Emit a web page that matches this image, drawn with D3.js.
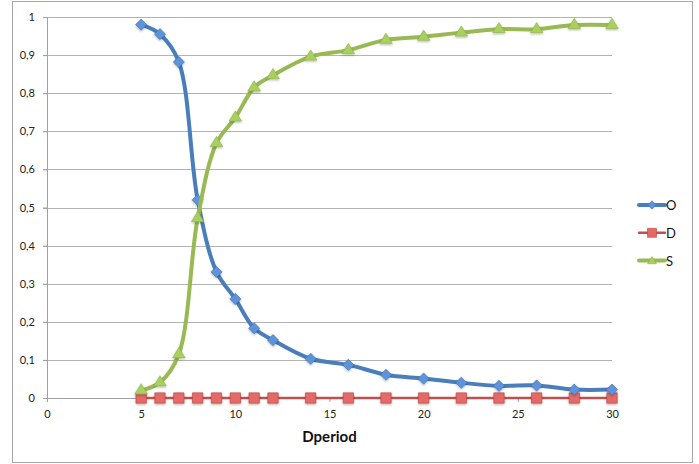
<!DOCTYPE html>
<html>
<head>
<meta charset="utf-8">
<script src="https://cdn.jsdelivr.net/npm/d3@7"></script>
<style>
  body { margin: 0; background: #fff; }
  text { font-family: Lato, "Open Sans", sans-serif; }
</style>
</head>
<body>
<div id="wrapper"></div>
<script>
// data
const xValues = [5, 6, 7, 8, 9, 10, 11, 12, 14, 16, 18, 20, 22, 24, 26, 28, 30]
const oValues = [0.98, 0.955, 0.882, 0.52, 0.331, 0.26, 0.183, 0.152, 0.103, 0.087, 0.061, 0.051, 0.04, 0.032, 0.033, 0.022, 0.022]
const dValues = [0, 0, 0, 0, 0, 0, 0, 0, 0, 0, 0, 0, 0, 0, 0, 0, 0]
const sValues = [0.02, 0.041, 0.115, 0.472, 0.669, 0.736, 0.815, 0.847, 0.896, 0.913, 0.94, 0.948, 0.959, 0.968, 0.968, 0.979, 0.979]
const seriesNames = ["O", "D", "S"]
const xTicks = [0, 5, 10, 15, 20, 25, 30]
const yTicks = [0, 0.1, 0.2, 0.3, 0.4, 0.5, 0.6, 0.7, 0.8, 0.9, 1]

const series = [
  { name: seriesNames[0], values: oValues, color: "#4a7ebb", fill: "#5d93db", stroke: "#3f70b0", width: 4, marker: "diamond" },
  { name: seriesNames[1], values: dValues, color: "#c0504d", fill: "#e46a67", stroke: "#b9423f", width: 2.5, marker: "square" },
  { name: seriesNames[2], values: sValues, color: "#98b954", fill: "#a9d05c", stroke: "#8fb04a", width: 4, marker: "triangle" },
]

// dimensions
const dimensions = {
  width: 699,
  height: 464,
  margin: { top: 17, right: 87, bottom: 66, left: 47 },
}
dimensions.boundedWidth = 612 - dimensions.margin.left
dimensions.boundedHeight = 398 - dimensions.margin.top

const svg = d3.select("#wrapper")
  .append("svg")
    .attr("width", dimensions.width)
    .attr("height", dimensions.height)

// chart border
svg.append("rect")
    .attr("x", 12.5)
    .attr("y", 1.5)
    .attr("width", 680)
    .attr("height", 461)
    .attr("fill", "#fff")
    .attr("stroke", "#a6a6a6")
    .attr("stroke-width", 1)

const defs = svg.append("defs")
const shadow = defs.append("filter")
    .attr("id", "shadow")
    .attr("x", "-50%").attr("y", "-50%")
    .attr("width", "200%").attr("height", "200%")
shadow.append("feDropShadow")
    .attr("dx", 0).attr("dy", 1.2)
    .attr("stdDeviation", 0.8)
    .attr("flood-color", "#000")
    .attr("flood-opacity", 0.3)

const bounds = svg.append("g")
    .attr("transform", `translate(${dimensions.margin.left}, ${dimensions.margin.top})`)

// scales
const xScale = d3.scaleLinear()
  .domain([0, 30])
  .range([0, dimensions.boundedWidth])

const yScale = d3.scaleLinear()
  .domain([0, 1])
  .range([dimensions.boundedHeight, 0])

const fmt = d => d3.format("")(+d.toFixed(1)).replace(".", ",")

// gridlines
bounds.append("g")
  .selectAll("line")
  .data(yTicks.filter(d => d > 0))
  .join("line")
    .attr("x1", -4)
    .attr("x2", dimensions.boundedWidth)
    .attr("y1", d => Math.round(yScale(d)) + 0.5)
    .attr("y2", d => Math.round(yScale(d)) + 0.5)
    .attr("stroke", "#b3b3b3")
    .attr("stroke-width", 1)

// axes
const yAxis = bounds.append("g")
    .call(d3.axisLeft(yScale).tickValues(yTicks).tickFormat(fmt).tickSize(4).tickPadding(8))
yAxis.select(".domain").attr("stroke", "#a0a0a0")
yAxis.selectAll(".tick line").attr("stroke", "#a0a0a0")
yAxis.selectAll("text")
    .attr("font-size", 11)
    .attr("fill", "#222")
    .style("font-family", "Lato, sans-serif")

const xAxis = bounds.append("g")
    .attr("transform", `translate(0, ${dimensions.boundedHeight})`)
    .call(d3.axisBottom(xScale).tickValues(xTicks).tickFormat(d3.format("d")).tickSize(4).tickPadding(8))
xAxis.select(".domain").attr("stroke", "#a0a0a0")
xAxis.selectAll(".tick line").attr("stroke", "#a0a0a0")
xAxis.selectAll("text")
    .attr("font-size", 11)
    .attr("fill", "#222")
    .style("font-family", "Lato, sans-serif")

xAxis.append("text")
    .attr("x", xScale(15))
    .attr("y", 44)
    .attr("text-anchor", "middle")
    .attr("font-size", 15)
    .attr("font-weight", "bold")
    .attr("fill", "#111")
    .text("Dperiod")

// markers (Excel-style: square diamonds, big squares, wide triangles)
function markerShape(type, r) {
  if (type === "diamond") return `M0,${-r}L${r},0L0,${r}L${-r},0Z`
  if (type === "square") return `M${-r},${-r}H${r}V${r}H${-r}Z`
  return `M0,${-r * 0.95}L${r * 1.05},${r * 0.75}H${-r * 1.05}Z`
}

const lineGenerator = d3.line()
  .x(d => xScale(d[0]))
  .y(d => yScale(d[1]))
  .curve(d3.curveCatmullRom.alpha(0.5))

// draw D first, then O, then S
const drawOrder = [series[1], series[0], series[2]]
drawOrder.forEach(s => {
  const points = xValues.map((x, i) => [x, s.values[i]])
  const g = bounds.append("g")
  g.append("path")
      .attr("d", lineGenerator(points))
      .attr("fill", "none")
      .attr("stroke", s.color)
      .attr("stroke-width", s.width)
      .attr("stroke-linejoin", "round")
      .attr("stroke-linecap", "round")
  g.selectAll("path.marker")
    .data(points)
    .join("path")
      .attr("class", "marker")
      .attr("d", markerShape(s.marker, s.marker === "square" ? 5.2 : s.marker === "diamond" ? 5.6 : 6))
      .attr("transform", d => `translate(${xScale(d[0])}, ${yScale(d[1]) + (s.marker === "triangle" ? -1 : 0)})`)
      .attr("fill", s.fill)
      .attr("stroke", s.stroke)
      .attr("stroke-width", 0.6)
      .attr("filter", "url(#shadow)")
})

// legend
const legend = svg.append("g")
    .attr("transform", "translate(639, 205)")
const legendItems = legend.selectAll("g")
  .data(series)
  .join("g")
    .attr("transform", (d, i) => `translate(0, ${i * 27.8})`)
legendItems.append("line")
    .attr("x1", 0)
    .attr("x2", 26)
    .attr("stroke", d => d.color)
    .attr("stroke-width", d => d.width)
    .attr("stroke-linecap", "round")
legendItems.append("path")
    .attr("d", d => markerShape(d.marker, d.marker === "square" ? 4.5 : 4.2))
    .attr("transform", "translate(13, 0)")
    .attr("fill", d => d.fill)
    .attr("stroke", d => d.stroke)
    .attr("stroke-width", 0.6)
legendItems.append("text")
    .attr("x", 27)
    .attr("y", 5)
    .attr("font-size", 13)
    .attr("fill", "#111")
    .text(d => d.name)
</script>
</body>
</html>
